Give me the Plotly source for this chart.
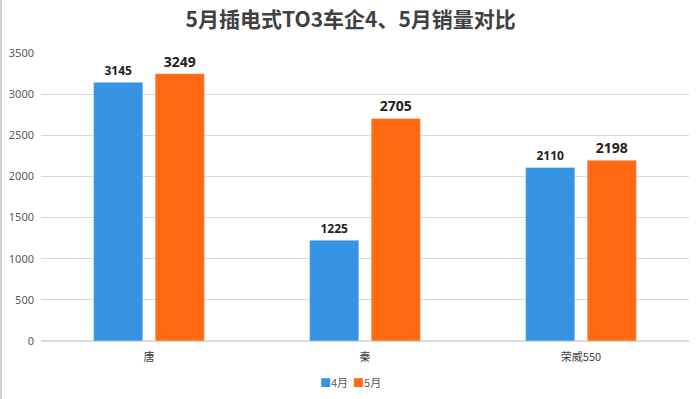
import plotly.graph_objects as go

categories = ["唐", "秦", "荣威550"]
april = [3145, 1225, 2110]
may = [3249, 2705, 2198]
tick_vals = [0, 500, 1000, 1500, 2000, 2500, 3000, 3500]

BLUE = "#3794E4"
ORANGE = "#FF6A12"

fig = go.Figure()
fig.add_trace(go.Bar(
    x=categories, y=april, name="4月", marker_color=BLUE,
    text=[str(v) for v in april], textposition="outside",
    textfont=dict(family="Noto Sans, sans-serif", size=12, color="#222222"),
    cliponaxis=False,
))
fig.add_trace(go.Bar(
    x=categories, y=may, name="5月", marker_color=ORANGE,
    text=[str(v) for v in may], textposition="outside",
    textfont=dict(family="Noto Sans, sans-serif", size=14, color="#222222"),
    cliponaxis=False,
))

fig.update_layout(
    width=700, height=399,
    margin=dict(l=41, r=11, t=53, b=58, autoexpand=False),
    paper_bgcolor="white", plot_bgcolor="white",
    barmode="group", bargap=0.43, bargroupgap=0.2,
    title=dict(text="<b>5月插电式TO3车企4、5月销量对比</b>", x=0.501, xanchor="center",
               xref="container", y=0.95, yanchor="middle",
               font=dict(family="Noto Sans CJK SC, sans-serif", size=21, color="#404040")),
    font=dict(family="Noto Sans CJK SC, sans-serif", color="#595959"),
    yaxis=dict(range=[0, 3500], tickvals=tick_vals, showgrid=True, gridcolor="#D9D9D9",
               gridwidth=1, zeroline=True, zerolinecolor="#D9D9D9", automargin=False,
               tickfont=dict(family="Noto Sans, sans-serif", size=11, color="#595959"),
               ticks="", ticklen=0, ticklabelstandoff=6),
    xaxis=dict(showgrid=False, automargin=False, ticks="", ticklen=0, ticklabelstandoff=8,
               tickfont=dict(size=11, color="#404040")),
    showlegend=False,
)
fig.add_annotation(
    xref="paper", yref="paper", x=0.477, y=-0.142, xanchor="center", yanchor="middle",
    showarrow=False,
    text=(f"<span style='color:{BLUE}'>■</span>4月  "
          f"<span style='color:{ORANGE}'>■</span>5月"),
    font=dict(family="Noto Sans CJK SC, sans-serif", size=11, color="#595959"),
)
fig.add_shape(type="line", xref="paper", yref="paper", x0=-0.0617, x1=-0.0617, y0=-0.3, y1=1.3,
              line=dict(color="#D0D0D0", width=2))
fig.update_traces(texttemplate="<b>%{text}</b>")

fig.write_html("out.html", config={"displayModeBar": False},
               post_script="document.body.style.margin='0px';")
